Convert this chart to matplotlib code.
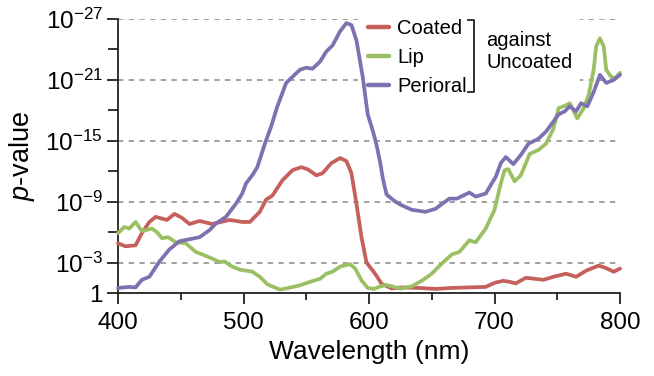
import matplotlib
matplotlib.use("Agg")
import matplotlib.pyplot as plt
from matplotlib.patches import Rectangle
from matplotlib.lines import Line2D

plt.rcParams['font.family'] = ['Liberation Sans', 'DejaVu Sans']
plt.rcParams['mathtext.fontset'] = 'custom'
plt.rcParams['mathtext.rm'] = 'Liberation Sans'
plt.rcParams['mathtext.it'] = 'Liberation Sans:italic'
plt.rcParams['mathtext.default'] = 'regular'

# -log10(p) values
coated_nm = [400, 406, 414, 419, 425, 430, 439, 445, 451, 457, 465, 475, 489, 499, 505,
             513, 518, 523, 531, 539, 546, 551, 558, 563, 570, 577, 582, 586, 590, 594,
             598, 603, 606, 610, 618, 626, 640, 653, 666, 680, 693, 700, 707, 712, 717,
             725, 739, 747, 757, 765, 773, 783, 788, 795, 800]
coated_val = [4.9, 4.6, 4.7, 5.9, 7.0, 7.5, 7.2, 7.8, 7.4, 6.8, 7.1, 6.8, 7.2, 7.0, 7.0,
              8.0, 9.2, 9.6, 11.1, 12.1, 12.4, 12.2, 11.6, 11.8, 12.8, 13.3, 13.0, 11.8, 8.8, 5.5,
              3.0, 2.2, 1.7, 0.9, 0.45, 0.55, 0.5, 0.4, 0.5, 0.55, 0.6, 1.0, 1.2, 1.1, 0.95,
              1.5, 1.3, 1.6, 1.9, 1.6, 2.2, 2.7, 2.5, 2.1, 2.4]

lip_nm = [400, 405, 409, 414, 419, 427, 431, 435, 440, 446, 454, 462, 473, 481, 485,
          491, 497, 507, 513, 519, 529, 537, 545, 553, 561, 566, 571, 577, 585, 589,
          594, 599, 604, 608, 613, 618, 625, 634, 642, 650, 658, 666, 672, 680, 685,
          693, 700, 704, 708, 711, 716, 721, 728, 735, 741, 747, 751, 757, 760, 766,
          771, 775, 779, 781, 784, 787, 789, 793, 796, 800]
lip_val = [5.9, 6.5, 6.35, 7.0, 6.1, 6.35, 6.0, 5.4, 5.5, 5.0, 4.9, 4.05, 3.5, 3.05, 3.1,
           2.6, 2.3, 2.1, 1.6, 0.86, 0.33, 0.53, 0.76, 1.1, 1.4, 1.9, 2.1, 2.6, 2.85, 2.4,
           1.25, 0.5, 0.4, 0.6, 0.8, 0.66, 0.43, 0.66, 1.2, 1.9, 2.9, 3.8, 4.05, 5.2, 5.0,
           6.35, 8.2, 10.3, 12.1, 12.2, 11.0, 11.6, 13.7, 14.1, 14.7, 16.2, 18.2, 18.5, 18.7, 17.2,
           18.2, 19.5, 22.0, 24.3, 25.1, 24.3, 22.0, 21.3, 21.15, 21.7]

perioral_nm = [400, 409, 414, 419, 425, 433, 441, 449, 457, 465, 473, 478, 486, 494, 499,
               502, 507, 511, 517, 522, 527, 534, 539, 545, 550, 555, 561, 566, 571, 577,
               582, 586, 590, 595, 599, 603, 606, 609, 611, 614, 621, 626, 634, 645, 653,
               664, 670, 680, 685, 693, 701, 705, 709, 715, 721, 727, 735, 741, 747, 751,
               756, 760, 765, 769, 774, 779, 784, 789, 795, 800]
perioral_val = [0.5, 0.6, 0.55, 1.3, 1.6, 3.1, 4.3, 5.1, 5.3, 5.5, 6.2, 6.85, 7.5, 8.8, 9.8,
                10.8, 11.6, 12.4, 14.7, 16.4, 18.4, 20.7, 21.3, 22.0, 22.2, 22.1, 22.8, 23.8, 24.4, 25.8,
                26.6, 26.4, 24.9, 21.3, 17.6, 16.0, 14.6, 12.8, 11.3, 9.7, 9.0, 8.65, 8.2, 8.0, 8.3,
                9.3, 9.3, 9.9, 9.5, 9.8, 11.45, 12.8, 13.4, 12.7, 13.6, 14.7, 15.2, 15.9, 16.9, 17.6,
                17.9, 18.4, 17.9, 18.7, 18.4, 19.8, 21.5, 20.7, 21.0, 21.5]

series_labels = ['Coated', 'Lip', 'Perioral']
series_colors = ['#C5605B', '#9BC063', '#7E71B1']

y_major = [0, 3, 9, 15, 21, 27]
y_major_labels = ['1', r'10$^{-3}$', r'10$^{-9}$', r'10$^{-15}$', r'10$^{-21}$', r'10$^{-27}$']
y_minor = [6, 12, 18, 24]
x_major = [400, 500, 600, 700, 800]
x_minor = [450, 550, 650, 750]

W, H = 654, 376
fig = plt.figure(figsize=(W / 100, H / 100), dpi=100)
ax = fig.add_axes([118 / W, 1 - 293 / H, (620 - 118) / W, (293 - 19) / H])

for xs, ys, c, lab in zip([coated_nm, lip_nm, perioral_nm],
                          [coated_val, lip_val, perioral_val],
                          series_colors, series_labels):
    ax.plot(xs, ys, color=c, lw=2.7, label=lab, zorder=3, solid_joinstyle='round',
            solid_capstyle='round', clip_on=False)

ax.set_xlim(400, 800)
ax.set_ylim(0, 27)
ax.set_yticks(y_major)
ax.set_yticklabels(y_major_labels)
ax.set_yticks(y_minor, minor=True)
ax.set_xticks(x_major)
ax.set_xticks(x_minor, minor=True)

ax.spines['top'].set_visible(False)
ax.spines['right'].set_visible(False)
for s in ['left', 'bottom']:
    ax.spines[s].set_linewidth(1.3)
    ax.spines[s].set_color('#222222')

ax.tick_params(axis='both', which='major', length=8, width=1.3, color='#222222',
               labelsize=17.5, pad=3)
ax.tick_params(axis='y', which='minor', length=7, width=1.3, color='#222222')
ax.tick_params(axis='x', which='minor', length=5, width=1.3, color='#222222')
ax.tick_params(axis='x', which='major', pad=6)

ax.set_axisbelow(True)
ax.yaxis.grid(True, which='major', linestyle=(0, (3.5, 3.5)), color='#888888', lw=1.1)
ax.xaxis.grid(False)

ax.set_xlabel('Wavelength (nm)', fontsize=19, labelpad=4)
ax.set_ylabel(r'$\mathit{p}$-value', fontsize=19.5, labelpad=6)

# white area behind legend block (covers grid lines)
ax.add_patch(Rectangle((358 / W, 1 - 100 / H), (580 - 358) / W, 100 / H,
                       transform=fig.transFigure, facecolor='white', edgecolor='none',
                       zorder=1, clip_on=False))

leg = ax.legend(loc='upper left', bbox_to_anchor=(368 / W, 1 - 19 / H),
                bbox_transform=fig.transFigure, frameon=False, fontsize=14.5,
                handlelength=1.05, handletextpad=0.4, labelspacing=0.5,
                borderpad=0, borderaxespad=0)
for l in leg.get_lines():
    l.set_linewidth(3.2)

# bracket
bx, by0, by1 = 474, 20, 92
fig.add_artist(Line2D([(bx - 6) / W, bx / W, bx / W, (bx - 6) / W],
                      [1 - by0 / H, 1 - by0 / H, 1 - by1 / H, 1 - by1 / H],
                      transform=fig.transFigure, color='#222222', lw=1.3))
fig.text(486 / W, 1 - 40 / H, 'against', fontsize=14.5, va='center', ha='left')
fig.text(486 / W, 1 - 63 / H, 'Uncoated', fontsize=14.5, va='center', ha='left')

fig.savefig('out.png', dpi=100)
